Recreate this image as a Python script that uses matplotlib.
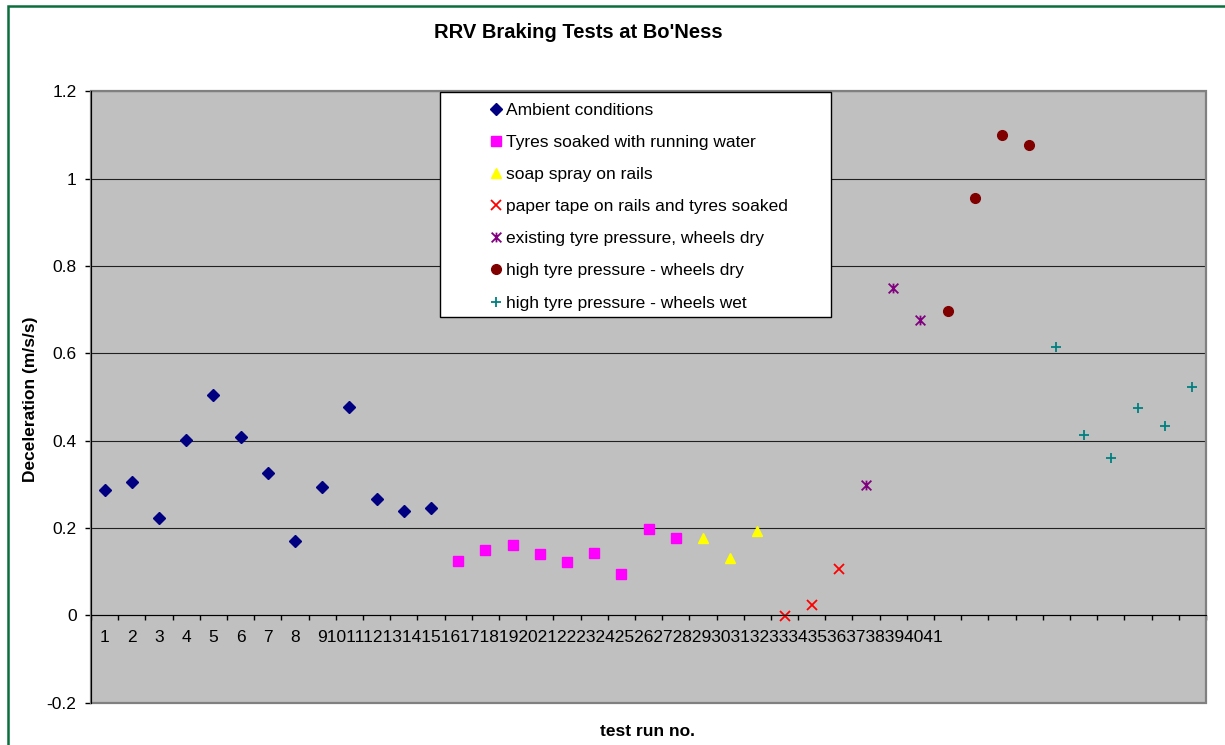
import matplotlib
matplotlib.use("Agg")
from matplotlib import pyplot as plt
from matplotlib.path import Path
from matplotlib.patches import Rectangle

plt.rcParams['font.family'] = ['Liberation Sans', 'DejaVu Sans']

# test run numbers and decelerations (m/s/s), one pair per test condition
ambient_runs = [1, 2, 3, 4, 5, 6, 7, 8, 9, 10, 11, 12, 13]
ambient = [0.288, 0.305, 0.224, 0.401, 0.505, 0.409, 0.327, 0.170, 0.294, 0.477, 0.267, 0.238, 0.246]

soaked_runs = [14, 15, 16, 17, 18, 19, 20, 21, 22]
soaked = [0.125, 0.150, 0.162, 0.140, 0.122, 0.143, 0.095, 0.197, 0.178]

soap_runs = [23, 24, 25]
soap = [0.178, 0.132, 0.194]

paper_runs = [26, 27, 28]
paper = [-0.002, 0.023, 0.105]

existing_runs = [29, 30, 31]
existing = [0.298, 0.750, 0.677]

high_dry_runs = [32, 33, 34, 35]
high_dry = [0.697, 0.955, 1.100, 1.077]

high_wet_runs = [36, 37, 38, 39, 40, 41]
high_wet = [0.615, 0.414, 0.361, 0.476, 0.434, 0.523]

run_labels = [str(i) for i in range(1, 42)]
y_ticks = [-0.2, 0, 0.2, 0.4, 0.6, 0.8, 1.0, 1.2]
y_tick_labels = ['-0.2', '0', '0.2', '0.4', '0.6', '0.8', '1', '1.2']

# excel style "star" marker: an x with a vertical bar through it
star = Path([(-1, -1), (1, 1), (-1, 1), (1, -1), (0, -1), (0, 1)],
            [Path.MOVETO, Path.LINETO, Path.MOVETO, Path.LINETO, Path.MOVETO, Path.LINETO])

fs = 12.5
fig = plt.figure(figsize=(12.25, 7.45), dpi=100)
ax = fig.add_axes([91.1 / 1225, 1 - 702.6 / 745, 1114.9 / 1225, 611.1 / 745])
ax.set_facecolor('#C0C0C0')

ax.plot(ambient_runs, ambient, ls='none', marker='D', ms=6.2, color='#000080', label='Ambient conditions')
ax.plot(soaked_runs, soaked, ls='none', marker='s', ms=6.8, color='#FF00FF', label='Tyres soaked with running water')
ax.plot(soap_runs, soap, ls='none', marker='^', ms=7, color='#FFFF00', label='soap spray on rails')
ax.plot(paper_runs, paper, ls='none', marker='x', ms=6.5, mew=1.3, color='#FF0000',
        label='paper tape on rails and tyres soaked')
ax.plot(existing_runs, existing, ls='none', marker=star, ms=7, mew=1.3, color='#800080',
        label='existing tyre pressure, wheels dry')
ax.plot(high_dry_runs, high_dry, ls='none', marker='o', ms=7, color='#800000', label='high tyre pressure - wheels dry')
ax.plot(high_wet_runs, high_wet, ls='none', marker='+', ms=7.5, mew=1.3, color='#008080',
        label='high tyre pressure - wheels wet')

ax.set_xlim(0.5, 41.5)
ax.set_ylim(-0.2, 1.2)

# y axis
ax.set_yticks(y_ticks)
ax.set_yticklabels(y_tick_labels, fontsize=fs)
ax.tick_params(axis='y', direction='out', length=4.5, width=1, pad=6, color='black')
ax.yaxis.grid(True, color='#202020', lw=0.8)
ax.set_axisbelow(True)

# x axis sits on y = 0, ticks between categories, labels on category centres
ax.spines['bottom'].set_position(('data', 0))
ax.spines['bottom'].set_color('black')
ax.spines['left'].set_color('black')
ax.spines['top'].set_visible(False)
ax.spines['right'].set_visible(False)
ax.set_xticks([i + 0.5 for i in range(0, 42)])
ax.set_xticklabels([])
ax.tick_params(axis='x', which='major', direction='out', length=3.8, width=1, color='black')
ax.set_xticks(range(1, 9), minor=True)
ax.set_xticklabels(run_labels[:8], minor=True, fontsize=fs)
ax.tick_params(axis='x', which='minor', length=0, pad=10.6)
# the remaining labels run into each other in the original
ax.annotate(''.join(run_labels[8:]), xy=(9, 0), xycoords='data',
            xytext=(-3.46, -10.6), textcoords='offset points',
            ha='left', va='top', fontsize=fs)

# grey plot-area frame
ax.add_patch(Rectangle((0, 0), 1, 1, transform=ax.transAxes, fill=False,
                       edgecolor='#808080', lw=1.6, clip_on=False, zorder=1.5))

ax.set_xlabel('test run no.', fontsize=fs, fontweight='bold')
ax.xaxis.set_label_coords(0.4995, -0.0465)
ax.xaxis.label.set_va('center')
ax.set_ylabel('Deceleration (m/s/s)', fontsize=fs, fontweight='bold')
ax.yaxis.set_label_coords(-0.0548, 0.4968)
ax.yaxis.label.set_va('center')

ax.set_title("RRV Braking Tests at Bo'Ness", fontsize=14.5, fontweight='bold',
             x=0.4367, y=1.0876, pad=0)

# legend box (white, drawn separately so it can be wider than the entries)
ax.add_patch(Rectangle(((440 - 91.1) / 1114.9, (702.6 - 316.7) / 611.1),
                       (831 - 440) / 1114.9, (316.7 - 92.3) / 611.1,
                       transform=ax.transAxes, facecolor='white', edgecolor='black',
                       lw=1, zorder=4))
leg = ax.legend(loc='upper left', bbox_to_anchor=((490.5 - 91.1) / 1114.9, (702.6 - 102.5) / 611.1),
                frameon=False, fontsize=fs, borderpad=0, borderaxespad=0,
                handlelength=0.6, handletextpad=0.28, labelspacing=0.98)
leg.set_zorder(5)

# green outer border of the chart object
fig.add_artist(Rectangle((8 / 1225, -0.1), 1.5, 1 - 6 / 745 + 0.1, transform=fig.transFigure,
                         fill=False, edgecolor='#0b6e3d', lw=1.8))

plt.savefig('out.png', dpi=100)
